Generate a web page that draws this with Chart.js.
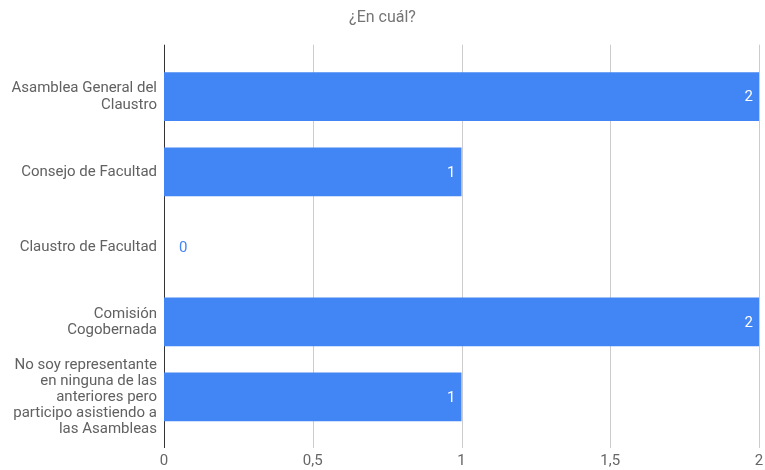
<!DOCTYPE html>
<html>
<head>
<meta charset="utf-8">
<script src="https://cdn.jsdelivr.net/npm/chart.js@4/dist/chart.umd.min.js"></script>
<style>
  body { margin: 0; background: #fff; }
  #wrap { width: 765px; height: 470px; }
</style>
</head>
<body>
<div id="wrap"><canvas id="chart"></canvas></div>
<script>
// Chart data
const categories = [
    ['Asamblea General del', 'Claustro'],
    'Consejo de Facultad',
    'Claustro de Facultad',
    ['Comisión', 'Cogobernada'],
    ['No soy representante', 'en ninguna de las', 'anteriores pero', 'participo asistiendo a', 'las Asambleas']
];
const counts = [2, 1, 0, 2, 1];
const xTicks = [0, 0.5, 1, 1.5, 2];
const chartTitle = '¿En cuál?';

const barColor = '#4285f4';

// Grid lines run a bit past the plot area, like the original
const gridPlugin = {
    id: 'gridLines',
    beforeDatasetsDraw(chart) {
        const ctx = chart.ctx;
        const area = chart.chartArea;
        const xs = chart.scales.x;
        ctx.save();
        xTicks.forEach(v => {
            const x = Math.round(xs.getPixelForValue(v)) + 0.5;
            ctx.strokeStyle = v === 0 ? '#333333' : '#cccccc';
            ctx.lineWidth = 1;
            ctx.beginPath();
            ctx.moveTo(x, area.top - 14.5);
            ctx.lineTo(x, area.bottom + 13.5);
            ctx.stroke();
        });
        ctx.restore();
    }
};

// Value labels at the end of each bar
const valueLabels = {
    id: 'valueLabels',
    afterDatasetsDraw(chart) {
        const ctx = chart.ctx;
        const meta = chart.getDatasetMeta(0);
        ctx.save();
        ctx.font = '15px Roboto';
        ctx.textBaseline = 'middle';
        meta.data.forEach((bar, i) => {
            const label = String(counts[i]);
            if (counts[i] > 0) {
                ctx.fillStyle = '#ffffff';
                ctx.textAlign = 'right';
                ctx.fillText(label, bar.x - 6, bar.y + 1);
            } else {
                ctx.fillStyle = barColor;
                ctx.textAlign = 'left';
                ctx.fillText(label, bar.x + 15, bar.y + 1);
            }
        });
        ctx.restore();
    }
};

new Chart(document.getElementById('chart'), {
    type: 'bar',
    data: {
        labels: categories,
        datasets: [{
            data: counts,
            backgroundColor: barColor,
            borderWidth: 0,
            barPercentage: 0.65,
            categoryPercentage: 1
        }]
    },
    options: {
        indexAxis: 'y',
        responsive: true,
        maintainAspectRatio: false,
        animation: false,
        layout: { padding: 0 },
        plugins: {
            legend: { display: false },
            tooltip: { enabled: false },
            title: {
                display: true,
                text: chartTitle,
                color: '#757575',
                font: { family: 'Roboto', size: 16, weight: 'normal' },
                padding: { top: 8, bottom: 32 }
            }
        },
        scales: {
            x: {
                min: 0,
                max: 2,
                afterBuildTicks(scale) {
                    scale.ticks = xTicks.map(v => ({ value: v }));
                },
                afterFit(scale) {
                    scale.height = 35.5;
                    scale.paddingLeft = 0;
                    scale.paddingRight = 6;
                },
                grid: { display: false, drawTicks: false },
                border: { display: false },
                ticks: {
                    color: '#666666',
                    font: { family: 'Roboto', size: 15 },
                    padding: 18,
                    maxRotation: 0,
                    callback: v => String(v).replace('.', ',')
                }
            },
            y: {
                afterFit(scale) { scale.width = 164; },
                grid: { display: false, drawTicks: false },
                border: { display: false },
                ticks: {
                    color: '#616161',
                    autoSkip: false,
                    font: { family: 'Roboto', size: 15, lineHeight: 1.07 },
                    padding: 7
                }
            }
        }
    },
    plugins: [gridPlugin, valueLabels]
});
</script>
</body>
</html>
